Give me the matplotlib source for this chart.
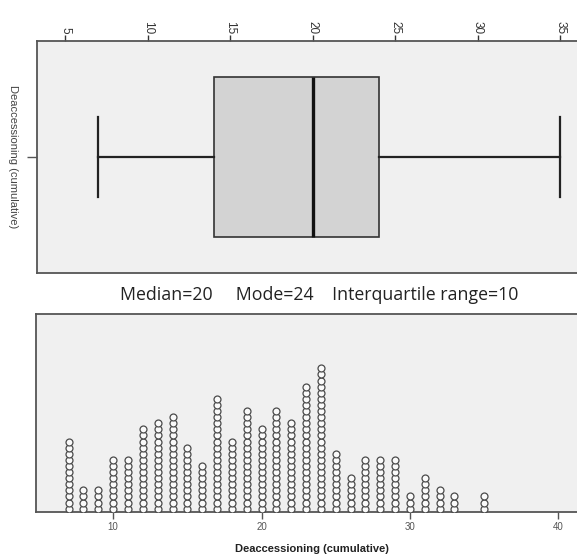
import numpy as np
import matplotlib
matplotlib.use('Agg')
from matplotlib import pyplot as plt

# counts of cases at each cumulative deaccessioning value
values = [7, 8, 9, 10, 11, 12, 13, 14, 15, 16, 17, 18, 19, 20, 21, 22, 23, 24,
          25, 26, 27, 28, 29, 30, 31, 32, 33, 35]
counts = [12, 4, 4, 9, 9, 14, 15, 16, 11, 8, 19, 12, 17, 14, 17, 15, 21, 24,
          10, 6, 9, 9, 9, 3, 6, 4, 3, 3]
top_ticks = [5, 10, 15, 20, 25, 30, 35]
bottom_ticks = [10, 20, 30, 40]
label = 'Deaccessioning (cumulative)'
summary = 'Median=20     Mode=24    Interquartile range=10'

data = np.repeat(values, counts)

plt.rcParams['font.family'] = ['Liberation Sans', 'DejaVu Sans']
fig = plt.figure(figsize=(5.77, 5.54), dpi=100)
fig.patch.set_facecolor('white')

panel_bg = '#f0f0f0'
spine_col = '#555555'

# --- box plot ---
ax1 = fig.add_axes([37/577, 1-273.3/554, 549.5/577, (273.3-40.7)/554])
ax1.set_facecolor(panel_bg)
ax1.boxplot(data, orientation='horizontal', whis=(0, 100), widths=0.69,
            capwidths=0.34, patch_artist=True, showfliers=False,
            boxprops=dict(facecolor='#d3d3d3', edgecolor='#333333', linewidth=1.2),
            whiskerprops=dict(color='#222222', linewidth=1.6),
            capprops=dict(color='#222222', linewidth=1.6),
            medianprops=dict(color='#111111', linewidth=2.4))
ax1.set_xlim(3.3, 36.6)
ax1.set_ylim(0.5, 1.5)
ax1.xaxis.tick_top()
ax1.set_xticks(top_ticks)
ax1.set_xticklabels([str(t) for t in top_ticks], rotation=-90, fontsize=8.5, color='#333333')
ax1.tick_params(axis='x', direction='out', length=4, width=1, color='#333333', pad=1)
ax1.set_yticks([1])
ax1.set_yticklabels([''])
ax1.tick_params(axis='y', direction='out', length=7, width=1, color='#555555')
ax1.set_ylabel(label, rotation=270, fontsize=8, color='#444444')
ax1.yaxis.set_label_coords(-0.052, 0.5)
for s in ax1.spines.values():
    s.set_color(spine_col)
    s.set_linewidth(1.3)

fig.text(0.554, 1-295/554, summary, ha='center', va='center',
         fontsize=12.8, family=['Open Sans', 'DejaVu Sans'], color='#222222')

# --- dot plot ---
ax2 = fig.add_axes([36/577, 1-512/554, 552/577, 198/554])
ax2.set_facecolor(panel_bg)
pitch = 6.1
for v, c in zip(values, counts):
    ys = np.arange(c) + 0.55
    ax2.scatter(np.full(c, v), ys, s=25, facecolor='#fafafa',
                edgecolor='#4a4a4a', linewidth=0.9, zorder=3)
ax2.set_xlim(4.8, 42.0)
ax2.set_ylim(0, 198/pitch)
ax2.set_xticks(bottom_ticks)
ax2.set_xticklabels([str(t) for t in bottom_ticks], fontsize=7, color='#555555')
ax2.tick_params(axis='x', direction='out', length=5, width=1, color='#555555', pad=2)
ax2.set_yticks([])
ax2.set_xlabel(label, fontsize=8, fontweight='bold', color='#222222', labelpad=9)
for s in ax2.spines.values():
    s.set_color(spine_col)
    s.set_linewidth(1.3)

fig.savefig('out.png', dpi=100)
